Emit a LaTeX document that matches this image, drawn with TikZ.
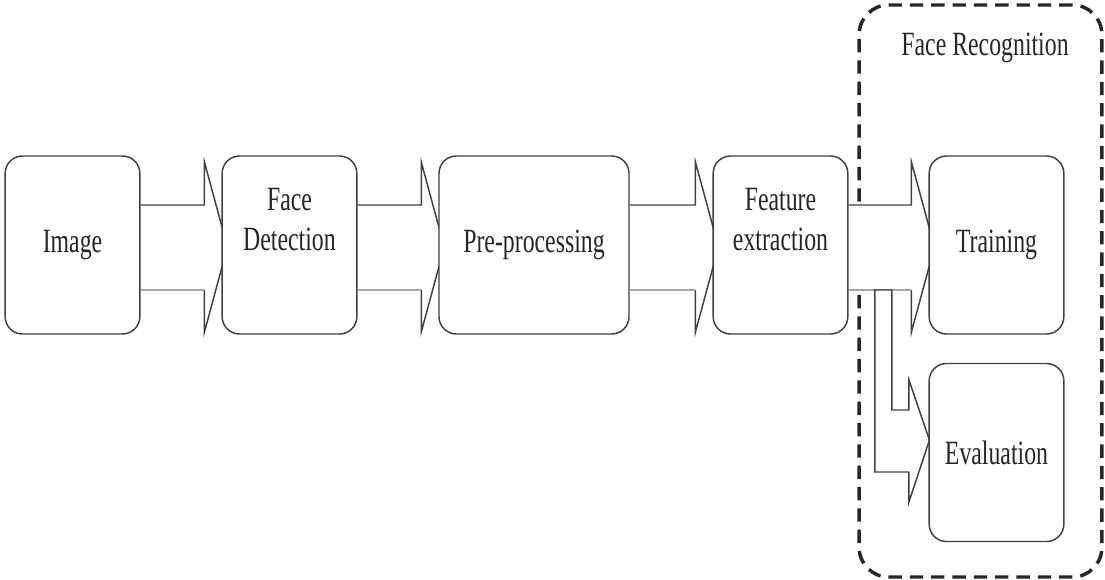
\documentclass[tikz,border=0pt]{standalone}
\usepackage{fontspec}
\setmainfont{Liberation Serif}[FakeStretch=0.7]
\usepackage{tikz}
\usetikzlibrary{backgrounds}
\tikzset{
  blok/.style={draw=black!75, line width=1.1pt, fill=white, rounded corners=13pt,
    minimum width=101pt, minimum height=133.5pt, inner sep=0pt, align=center,
    text=black!85, font=\fontsize{25.5}{30}\selectfont},
  shaft/.style={draw=black!75, line width=1.1pt, line join=miter},
  lowshaft/.style={draw=black!35, line width=1.1pt},
  groupbox/.style={draw=black!85, line width=2.6pt, dash pattern=on 10pt off 6pt,
    rounded corners=22pt, minimum width=182pt, minimum height=429pt},
}
% block arrow from one box to the next
\newcommand\blkarrow[2]{%
  \fill[white] ([shift={(0,40)}]#1.east) -- ([shift={(-17,40)}]#2.west) -- ([shift={(-17,83)}]#2.west)
    -- ([shift={(6,-2)}]#2.west) -- ([shift={(-17,-87)}]#2.west) -- ([shift={(-17,-45)}]#2.west)
    -- ([shift={(0,-45)}]#1.east) -- cycle;
  \draw[shaft] ([shift={(0,40)}]#1.east) -- ([shift={(-17,40)}]#2.west) -- ([shift={(-17,83)}]#2.west)
    -- ([shift={(6,-2)}]#2.west) -- ([shift={(-17,-87)}]#2.west) -- ([shift={(-17,-45)}]#2.west);
  \draw[lowshaft] ([shift={(0,-45)}]#1.east) -- ([shift={(-17,-45)}]#2.west);
}
\begin{document}
\begin{tikzpicture}[x=0.75pt, y=0.75pt]
  \useasboundingbox (0,0) rectangle (1105,579);
  \node[blok] (img) at (72.5,334) {Image};
  \node[blok] (det) at (289.5,334) {Face\\Detection\\\strut};
  \node[blok, minimum width=142.5pt] (pre) at (534,334) {Pre-processing};
  \node[blok] (feat) at (780.5,334) {Feature\\extraction\\\strut};
  \node[blok] (train) at (996.5,334) {Training};
  \node[blok] (eval) at (996.5,126.5) {Evaluation};
  \node[text=black!85, font=\fontsize{25.5}{30}\selectfont] (recogtitle) at (985,531) {Face Recognition};

  \begin{scope}[on background layer]
    \node[groupbox] (recog) at (980.5,288) {};
    \blkarrow{img}{det}
    \blkarrow{det}{pre}
    \blkarrow{pre}{feat}
    \blkarrow{feat}{train}
    % branch down to the evaluation box
    \fill[white] ([shift={(-53.5,162.5)}]eval.west) -- ([shift={(-53.5,-19.5)}]eval.west)
      -- ([shift={(-19.5,-19.5)}]eval.west) -- ([shift={(-19.5,-49.5)}]eval.west)
      -- ([shift={(1,12.5)}]eval.west) -- ([shift={(-19.5,72.5)}]eval.west)
      -- ([shift={(-19.5,42.5)}]eval.west) -- ([shift={(-36.5,42.5)}]eval.west)
      -- ([shift={(-36.5,162.5)}]eval.west) -- cycle;
    \draw[shaft] ([shift={(-53.5,162.5)}]eval.west) -- ([shift={(-53.5,-19.5)}]eval.west)
      -- ([shift={(-19.5,-19.5)}]eval.west) -- ([shift={(-19.5,-49.5)}]eval.west)
      -- ([shift={(1,12.5)}]eval.west) -- ([shift={(-19.5,72.5)}]eval.west)
      -- ([shift={(-19.5,42.5)}]eval.west) -- ([shift={(-36.5,42.5)}]eval.west)
      -- ([shift={(-36.5,162.5)}]eval.west) -- cycle;
  \end{scope}
\end{tikzpicture}
\end{document}
